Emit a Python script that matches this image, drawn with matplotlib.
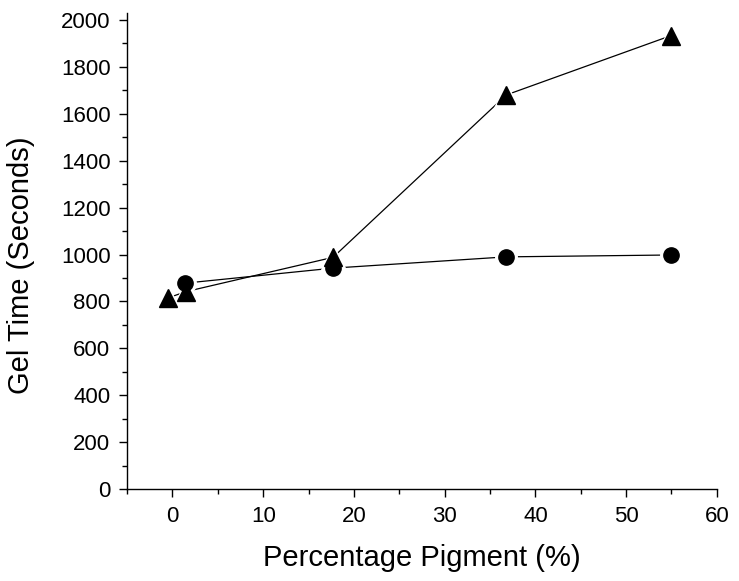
import matplotlib.pyplot as plt
from matplotlib.ticker import MultipleLocator

plt.rcParams['font.family'] = ['Liberation Sans', 'DejaVu Sans']

# triangles series
tri_x = [-0.5, 1.5, 17.7, 36.8, 54.9]
tri_y = [815, 842, 988, 1680, 1932]
# circles series
circ_x = [1.4, 17.7, 36.8, 55.0]
circ_y = [878, 942, 990, 998]

fig = plt.figure(figsize=(7.39, 5.81), dpi=100)
ax = fig.add_axes([0.172, 0.158, 0.798, 0.82])

ax.plot(tri_x, tri_y, '-', color='black', lw=0.9, zorder=1)
ax.plot(circ_x, circ_y, '-', color='black', lw=0.9, zorder=1)

# white halo so the lines stop short of the markers
ax.plot(tri_x, tri_y, '^', ms=18, color='white', mec='white', zorder=2)
ax.plot(circ_x, circ_y, 'o', ms=15.5, color='white', mec='white', zorder=2)

ax.plot(tri_x, tri_y, '^', ms=13, color='black', mec='black', zorder=3)
ax.plot(circ_x, circ_y, 'o', ms=11, color='black', mec='black', zorder=3)

ax.set_xlim(-5, 60)
ax.set_ylim(0, 2030)
ax.xaxis.set_major_locator(MultipleLocator(10))
ax.xaxis.set_minor_locator(MultipleLocator(5))
ax.yaxis.set_major_locator(MultipleLocator(200))
ax.yaxis.set_minor_locator(MultipleLocator(100))

ax.spines['top'].set_visible(False)
ax.spines['right'].set_visible(False)
for s in ('left', 'bottom'):
    ax.spines[s].set_linewidth(1.0)

ax.tick_params(which='major', direction='out', length=6, width=1, labelsize=16, pad=6)
ax.tick_params(which='minor', direction='out', length=3.5, width=1)

ax.set_xlabel('Percentage Pigment (%)', fontsize=21, labelpad=12)
ax.set_ylabel('Gel Time (Seconds)', fontsize=21)
ax.yaxis.set_label_coords(-0.157, 0.47)

fig.savefig('out.png', dpi=100)
